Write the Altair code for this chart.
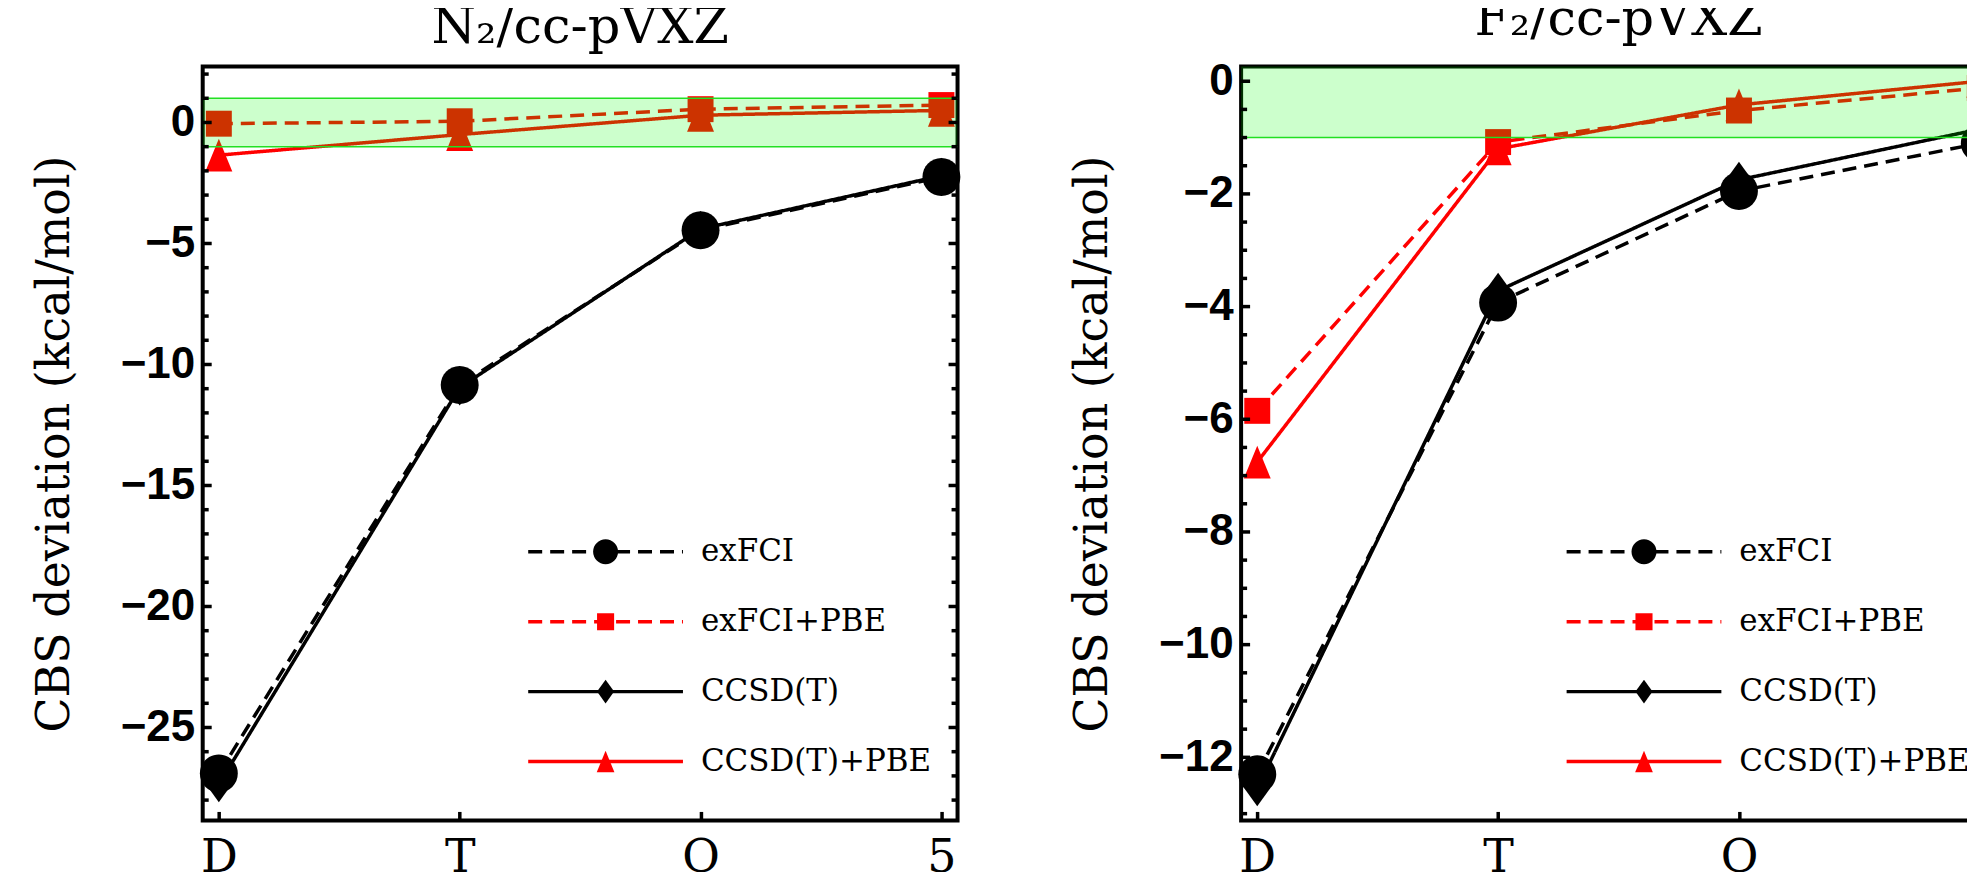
import json
import altair as alt
import pandas as pd

# ---------------- data ----------------
basis = ["D", "T", "Q", "5"]
series_names = ["exFCI", "exFCI+PBE", "CCSD(T)", "CCSD(T)+PBE"]

n2_exfci = [-26.9, -10.85, -4.45, -2.25]
n2_exfci_pbe = [-0.05, 0.05, 0.55, 0.72]
n2_ccsdt = [-27.35, -10.95, -4.4, -2.2]
n2_ccsdt_pbe = [-1.35, -0.5, 0.3, 0.5]

f2_exfci = [-12.3, -3.93, -1.95, -1.1]
f2_exfci_pbe = [-5.85, -1.08, -0.52, -0.12]
f2_ccsdt = [-12.55, -3.72, -1.75, -0.85]
f2_ccsdt_pbe = [-6.76, -1.2, -0.42, 0.0]

chem_band = [-1, 1]

n2_title = "N\u2082/cc-pVXZ"
f2_title = "F\u2082/cc-pVXZ"
y_title = "CBS deviation (kcal/mol)"

n2_major = [-25, -20, -15, -10, -5, 0]
n2_minor = [-28, -27, -26, -25, -24, -23, -22, -21, -20, -19, -18, -17, -16, -15,
            -14, -13, -12, -11, -10, -9, -8, -7, -6, -5, -4, -3, -2, -1, 0, 1, 2]
f2_major = [-12, -10, -8, -6, -4, -2, 0]
f2_minor = [-13, -12.5, -12, -11.5, -11, -10.5, -10, -9.5, -9, -8.5, -8, -7.5, -7,
            -6.5, -6, -5.5, -5, -4.5, -4, -3.5, -3, -2.5, -2, -1.5, -1, -0.5, 0]
n2_domain = [-28.84, 2.31]
f2_domain = [-13.12, 0.26]
x_domain = [-0.067, 3.067]

# ---------------- style ----------------
W, H = 756, 755
MAJOR_LEN, MINOR_LEN = 9, 6          # inward tick lengths in px
stroke_colors = ["black", "red", "black", "red"]
dash_styles = [[14, 8], [14, 8], [1, 0], [1, 0]]
# marker outlines in a [-1, 1] box (relative sizes baked in; circle = full box)
CIRCLE = "M-1,0A1,1 0 1,0 1,0A1,1 0 1,0 -1,0Z"
SQUARE = "M-0.684,-0.684H0.684V0.684H-0.684Z"
DIAMOND = "M0,-0.947L0.684,0L0,0.947L-0.684,0Z"
TRIANGLE = "M0,-0.868L0.71,0.868L-0.71,0.868Z"
marker_shapes = [CIRCLE, SQUARE, DIAMOND, TRIANGLE]
MARKER_SIZE = 1444
SERIF = "DejaVu Serif"
SANS = "Liberation Sans"
LEG_FONT = 31

common_leg = dict(orient="none", legendX=324, legendY=451, title=None,
                  clipHeight=70, rowPadding=0, padding=0,
                  labelFont=SERIF, labelFontSize=LEG_FONT, labelColor="black",
                  labelLimit=0, labelOffset=16)


def panel(title_text, series_values, domain, major, minor):
    rows = []
    for name, vals in zip(series_names, series_values):
        for i, v in enumerate(vals):
            rows.append({"idx": i, "value": v, "series": name})
    df = pd.DataFrame(rows)
    band_df = pd.DataFrame({"lo": [chem_band[0]], "hi": [chem_band[1]]})
    edge_df = pd.DataFrame({"edge": chem_band})

    # inward frame ticks (left and right edges), lengths converted to x data units
    per_px = (x_domain[1] - x_domain[0]) / W
    tick_rows = []
    for v in minor:
        L = (MAJOR_LEN if v in major else MINOR_LEN) * per_px
        tick_rows.append({"tv": v, "x0": x_domain[0], "x1": x_domain[0] + L})
        tick_rows.append({"tv": v, "x0": x_domain[1] - L, "x1": x_domain[1]})
    tick_df = pd.DataFrame(tick_rows)

    yscale = alt.Scale(domain=domain, nice=False, zero=False)
    xscale = alt.Scale(domain=x_domain, nice=False, zero=False)

    x_axis = alt.Axis(orient="bottom", values=[0, 1, 2, 3],
                      labelExpr=json.dumps(basis) + "[datum.value]",
                      offset=-MAJOR_LEN, tickSize=MAJOR_LEN, tickWidth=3.5,
                      tickColor="black", domain=False, grid=False, labelAngle=0,
                      labelFont=SERIF, labelFontSize=46, labelColor="black",
                      labelPadding=15, title=None)
    y_axis = alt.Axis(orient="left", values=major, format="d", ticks=False,
                      domain=False, grid=False,
                      labelFont=SANS, labelFontWeight="bold", labelFontSize=44,
                      labelColor="black", labelPadding=8,
                      title=y_title, titleFont=SERIF, titleFontSize=46,
                      titleFontWeight="normal", titleColor="black", titlePadding=42)

    lines = alt.Chart(df).mark_line(strokeWidth=3.5, strokeCap="butt").encode(
        x=alt.X("idx:Q", scale=xscale, axis=x_axis),
        y=alt.Y("value:Q", scale=yscale, axis=y_axis),
        stroke=alt.Stroke("series:N", scale=alt.Scale(domain=series_names, range=stroke_colors),
                          legend=alt.Legend(symbolType="stroke", symbolSize=155 ** 2,
                                            symbolStrokeWidth=3.5, **common_leg)),
        strokeDash=alt.StrokeDash("series:N", scale=alt.Scale(domain=series_names, range=dash_styles),
                                  legend=alt.Legend(symbolType="stroke", symbolSize=155 ** 2,
                                                    symbolStrokeWidth=3.5, **common_leg)),
        order=alt.Order("idx:Q"),
    )

    points = alt.Chart(df).mark_point(filled=True, opacity=1, strokeWidth=0,
                                      size=MARKER_SIZE).encode(
        x=alt.X("idx:Q", scale=xscale),
        y=alt.Y("value:Q", scale=yscale),
        fill=alt.Fill("series:N", scale=alt.Scale(domain=series_names, range=stroke_colors),
                      legend=alt.Legend(symbolSize=625, symbolOffset=64, symbolStrokeWidth=0,
                                        labelExpr="''", **common_leg)),
        shape=alt.Shape("series:N", scale=alt.Scale(domain=series_names, range=marker_shapes),
                        legend=alt.Legend(symbolSize=625, symbolOffset=64, symbolStrokeWidth=0,
                                          labelExpr="''", **common_leg)),
    )

    band = alt.Chart(band_df).mark_rect(color="#00ff00", opacity=0.2, clip=True).encode(
        y=alt.Y("lo:Q", scale=yscale),
        y2="hi:Q",
    )

    edges = alt.Chart(edge_df).mark_rule(color="#22e022", strokeWidth=1.5, clip=True).encode(
        y=alt.Y("edge:Q", scale=yscale),
    )

    ticks = alt.Chart(tick_df).mark_rule(color="black", strokeWidth=3.5, strokeCap="butt").encode(
        x=alt.X("x0:Q", scale=xscale),
        x2="x1:Q",
        y=alt.Y("tv:Q", scale=yscale),
    )

    return alt.layer(lines, points, band, edges, ticks).resolve_legend(
        fill="independent", shape="independent"
    ).properties(
        width=W, height=H,
        title=alt.TitleParams(title_text, font=SERIF, fontSize=51, fontWeight="normal",
                              color="black", anchor="middle", offset=13, frame="group"),
    )


left = panel(n2_title, [n2_exfci, n2_exfci_pbe, n2_ccsdt, n2_ccsdt_pbe],
             n2_domain, n2_major, n2_minor)
right = panel(f2_title, [f2_exfci, f2_exfci_pbe, f2_ccsdt, f2_ccsdt_pbe],
              f2_domain, f2_major, f2_minor)

chart = alt.hconcat(left, right, spacing=105).resolve_legend(
    stroke="independent", strokeDash="independent"
).properties(
    padding={"left": 21, "top": -17, "right": -34, "bottom": 0},
    background="white",
).configure_view(
    stroke="black", strokeWidth=4
)

chart.save("out.html", embed_options={"renderer": "svg", "actions": False})
